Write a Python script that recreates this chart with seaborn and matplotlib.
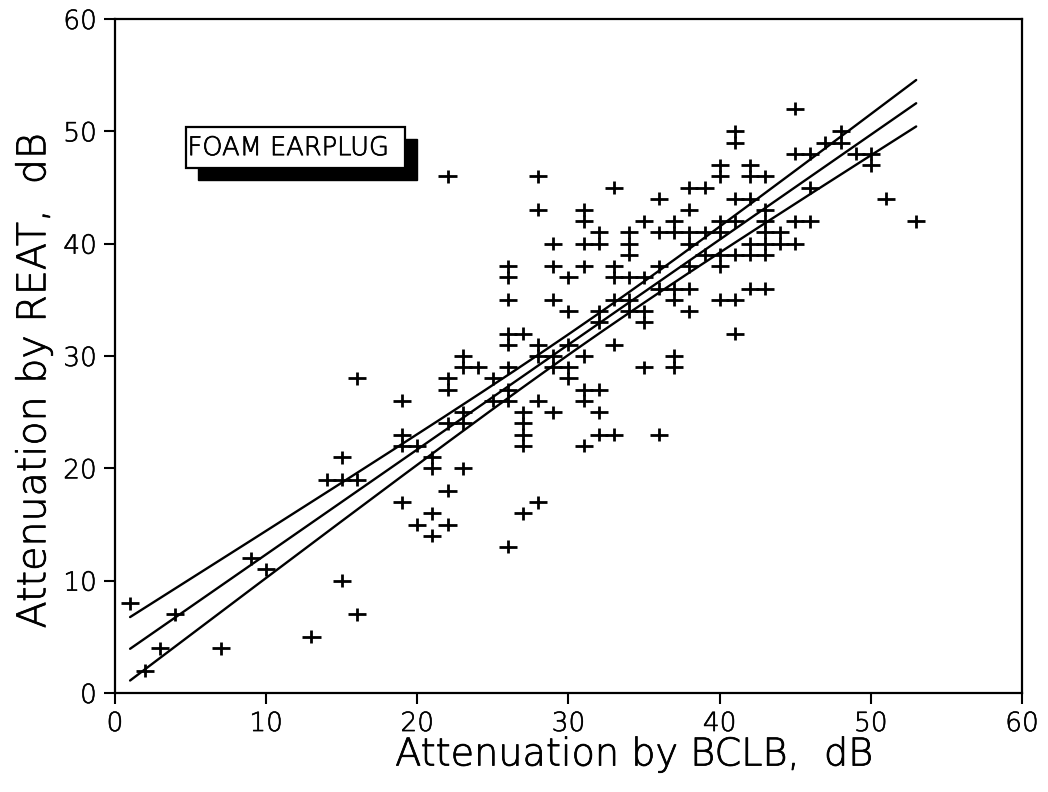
import numpy as np
import pandas as pd
import matplotlib
matplotlib.use("Agg")
import matplotlib.pyplot as plt
import matplotlib.patheffects as pe
from matplotlib.patches import Rectangle
from matplotlib.path import Path
import seaborn as sns

# Attenuation measured for each subject: bone-conduction loudness balance (BCLB)
# versus real-ear attenuation at threshold (REAT), both in dB.
bclb_db = [
    1, 2, 3, 4, 7, 9, 10, 13, 14, 15, 16, 15, 15, 16, 16,
    19, 19, 19, 20, 19, 20, 21, 21, 21, 21, 22, 22, 22, 22, 22, 22,
    23, 23, 23, 23, 23, 24, 25, 25, 26, 26, 26, 26, 26, 27, 26, 26, 26,
    26, 27, 28, 27, 27, 27, 27, 28, 28, 28, 28, 28,
    29, 29, 29, 29, 29, 29, 30, 30, 30, 30, 30,
    31, 31, 31, 31, 31, 31, 31, 31, 32, 32, 32, 32, 32, 32, 32,
    33, 33, 33, 33, 33, 33, 34, 34, 34, 34, 34, 34,
    35, 35, 35, 35, 35, 36, 36, 36, 36, 36, 37, 37, 37, 37, 37, 37,
    38, 38, 38, 38, 38, 38, 38, 39, 39, 39,
    40, 40, 40, 40, 40, 40, 40, 41, 41, 41, 41, 41, 41, 41,
    42, 42, 42, 42, 42, 42, 43, 43, 43, 43, 43, 43, 43,
    44, 44, 45, 45, 45, 45, 46, 46, 46, 47, 48, 48, 49, 50, 50, 51, 53,
]
reat_db = [
    8, 2, 4, 7, 4, 12, 11, 5, 19, 19, 19, 21, 10, 7, 28,
    26, 23, 22, 22, 17, 15, 21, 20, 16, 14, 15, 18, 28, 27, 24, 46,
    20, 25, 24, 30, 29, 29, 28, 26, 26, 27, 29, 31, 32, 32, 35, 37, 38,
    13, 16, 17, 25, 24, 23, 22, 26, 31, 30, 43, 46,
    25, 29, 30, 35, 38, 40, 28, 29, 31, 34, 37,
    22, 26, 27, 30, 38, 40, 42, 43, 23, 25, 27, 33, 34, 40, 41,
    23, 31, 35, 37, 38, 45, 34, 35, 37, 39, 40, 41,
    29, 33, 34, 37, 42, 23, 36, 38, 41, 44, 29, 30, 35, 36, 41, 42,
    34, 36, 38, 40, 41, 43, 45, 39, 41, 45,
    35, 38, 39, 41, 42, 46, 47, 32, 35, 39, 42, 44, 49, 50,
    36, 39, 40, 44, 46, 47, 36, 39, 40, 41, 42, 43, 46,
    40, 41, 40, 42, 48, 52, 42, 45, 48, 49, 49, 50, 48, 47, 48, 44, 42,
]

# Regression of REAT on BCLB (intercept in dB, slope in dB/dB)
fit_intercept = 3.0
fit_slope = 0.934

x_ticks = [0, 10, 20, 30, 40, 50, 60]
y_ticks = [0, 10, 20, 30, 40, 50, 60]
panel_label = "FOAM EARPLUG"
x_label = "Attenuation by BCLB,  dB"
y_label = "Attenuation by REAT,  dB"

df = pd.DataFrame({"bclb": bclb_db, "reat": reat_db})

# Regression line with 95% confidence limits for the mean response
x = df["bclb"].to_numpy(float)
y = df["reat"].to_numpy(float)
n = len(x)
resid = y - (fit_intercept + fit_slope * x)
s = np.sqrt(np.sum(resid ** 2) / (n - 2))
sxx = np.sum((x - x.mean()) ** 2)
t95 = 1.973
xs = np.linspace(x.min(), x.max(), 200)
fit = fit_intercept + fit_slope * xs
half = t95 * s * np.sqrt(1.0 / n + (xs - x.mean()) ** 2 / sxx)
lines = pd.concat([
    pd.DataFrame({"x": xs, "y": fit + half, "curve": "upper"}),
    pd.DataFrame({"x": xs, "y": fit, "curve": "fit"}),
    pd.DataFrame({"x": xs, "y": fit - half, "curve": "lower"}),
])

# Plus sign with a longer horizontal arm
plus = Path([(-1.0, 0.0), (1.0, 0.0), (0.0, -0.72), (0.0, 0.72)],
            [Path.MOVETO, Path.LINETO, Path.MOVETO, Path.LINETO])

sns.set_style("white")
plt.rcParams["font.family"] = ["DejaVu Sans"]
plt.rcParams["font.weight"] = 200

# Slight outline so the light typeface reads like a plotter pen stroke
pen = [pe.withStroke(linewidth=0.55, foreground="black")]
pen_thin = [pe.withStroke(linewidth=0.4, foreground="black")]

fig = plt.figure(figsize=(10.48, 7.92), dpi=100)
ax = fig.add_axes([0.1097, 0.125, 0.8655, 0.851])

sns.scatterplot(data=df, x="bclb", y="reat", marker=plus, s=170,
                facecolor="none", edgecolor="black", linewidth=2.0,
                ax=ax, legend=False)
sns.lineplot(data=lines, x="x", y="y", units="curve", estimator=None,
             color="black", linewidth=1.7, ax=ax, legend=False)

ax.set_xlim(0, 60)
ax.set_ylim(0, 60)
ax.set_xticks(x_ticks)
ax.set_yticks(y_ticks)
ax.set_xticklabels([str(v) for v in x_ticks], fontweight=200)
ax.set_yticklabels([str(v) for v in y_ticks], fontweight=200)
ax.tick_params(axis="both", direction="out", length=8, width=1.5,
               labelsize=19, colors="black", pad=5)
ax.tick_params(top=False, right=False, bottom=True, left=True)
for lbl in ax.get_xticklabels() + ax.get_yticklabels():
    lbl.set_path_effects(pen_thin)
for sp in ax.spines.values():
    sp.set_visible(True)
    sp.set_color("black")
    sp.set_linewidth(1.6)

ax.set_xlabel(x_label, fontsize=27.5, color="black", fontweight=200,
              path_effects=pen)
ax.set_ylabel(y_label, fontsize=28.5, color="black", fontweight=200,
              path_effects=pen)
ax.xaxis.set_label_coords(0.573, -0.066)
ax.yaxis.set_label_coords(-0.068, 0.464)

# Boxed panel label with a drop shadow
bx0, by0, bw, bh = 4.7, 46.7, 14.5, 3.7
ax.add_patch(Rectangle((bx0 + 0.8, by0 - 1.05), bw, bh, facecolor="black",
                       edgecolor="black", zorder=4))
ax.add_patch(Rectangle((bx0, by0), bw, bh, facecolor="white",
                       edgecolor="black", linewidth=1.6, zorder=5))
ax.text(bx0 + 0.1, by0 + bh / 2, panel_label, fontsize=18.5, ha="left",
        va="center", color="black", fontweight=200, path_effects=pen,
        zorder=6)

fig.savefig("out.png", dpi=100, facecolor="white")
